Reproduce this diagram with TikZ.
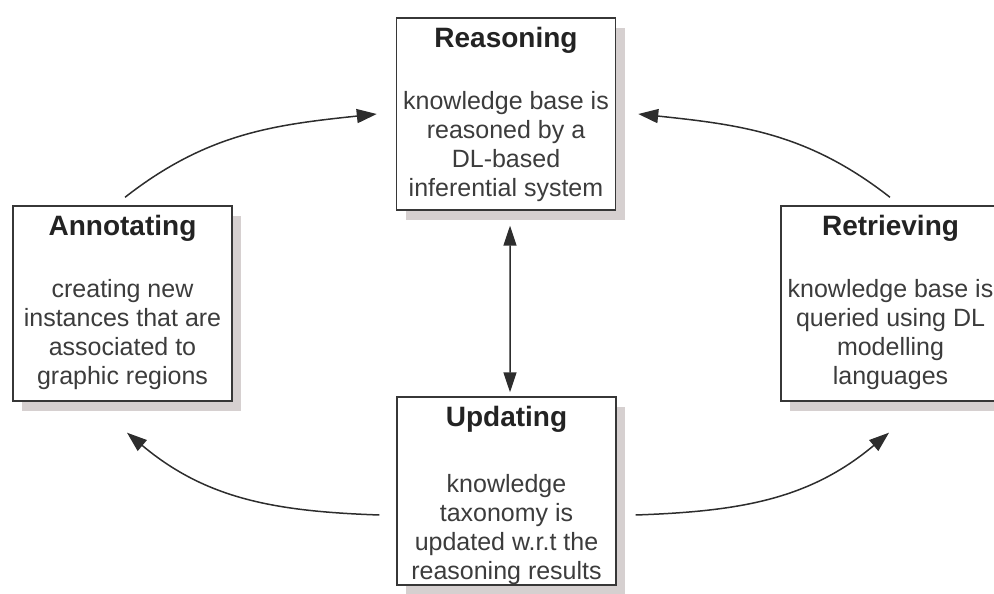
\documentclass[tikz,border=0pt]{standalone}
\usepackage{fontspec}
\setmainfont{Liberation Sans}
\usetikzlibrary{arrows.meta,shadows}
\definecolor{boxline}{RGB}{55,55,55}
\definecolor{shadowgray}{RGB}{214,208,208}
\definecolor{titleink}{RGB}{35,35,35}
\definecolor{bodyink}{RGB}{60,60,60}
\definecolor{arrowink}{RGB}{45,45,45}
\begin{document}
\begin{tikzpicture}[x=1bp,y=1bp,
  stage/.style={draw=boxline, line width=1.4bp, fill=white, inner sep=0pt,
    minimum width=219bp,
    general shadow={fill=shadowgray, shadow xshift=9bp, shadow yshift=-10bp}},
  stagetitle/.style={inner sep=0pt, anchor=base, text=titleink,
    font=\fontsize{28bp}{32bp}\selectfont\bfseries},
  stagebody/.style={inner sep=0pt, anchor=north, align=center, text=bodyink,
    font=\fontsize{25bp}{29bp}\selectfont,
    execute at begin node={\rule{0pt}{19bp}}},
  flow/.style={draw=arrowink, line width=1.5bp,
    -{Triangle[length=20bp,width=14bp]}},
  link/.style={draw=arrowink, line width=1.5bp,
    {Triangle[length=20bp,width=13bp]}-{Triangle[length=20bp,width=13bp]}}]
\useasboundingbox (0,0) rectangle (994,594);
\clip (0,0) rectangle (994,594);

% the four stages of the cycle
\node[stage, minimum height=192bp] (rea) at (506,480) {};
\node[stage, minimum height=195bp] (ann) at (122.5,290.5) {};
\node[stage, minimum height=195bp] (ret) at (890.5,290.5) {};
\node[stage, minimum height=188bp] (upd) at (506.5,103) {};

% titles
\node[stagetitle] (reaT) at ([yshift=-30bp]rea.north) {Reasoning};
\node[stagetitle] (annT) at ([yshift=-30bp]ann.north) {Annotating};
\node[stagetitle] (retT) at ([yshift=-30bp]ret.north) {Retrieving};
\node[stagetitle] (updT) at ([yshift=-30bp]upd.north) {Updating};

% descriptions
\node[stagebody] (reaB) at ([yshift=-74bp]rea.north)
  {knowledge base is\\reasoned by a\\DL-based\\inferential system};
\node[stagebody] (annB) at ([yshift=-74bp]ann.north)
  {creating new\\instances that are\\associated to\\graphic regions};
\node[stagebody] (retB) at ([yshift=-74bp]ret.north)
  {knowledge base is\\queried using DL\\modelling\\languages};
\node[stagebody] (updB) at ([yshift=-78bp]upd.north)
  {knowledge\\taxonomy is\\updated w.r.t the\\reasoning results};

% curved arrows around the cycle
\draw[flow] ([xshift=2.5bp,yshift=8bp]ann.north) to[out=38,in=186]
  ([xshift=-19bp]rea.west);
\draw[flow] ([xshift=-0.5bp,yshift=8bp]ret.north) to[out=142,in=-6]
  ([xshift=22bp]rea.east);
\draw[flow] ([xshift=-17bp,yshift=-24bp]upd.west) to[out=178,in=-40]
  ([xshift=4.5bp,yshift=-31bp]ann.south);
\draw[flow] ([xshift=19bp,yshift=-24bp]upd.east) to[out=2,in=220]
  ([xshift=-1.5bp,yshift=-31bp]ret.south);

% two-way link between reasoning and updating
\draw[link] ([xshift=4bp,yshift=-15bp]rea.south) -- ([xshift=3.5bp,yshift=4bp]upd.north);
\end{tikzpicture}
\end{document}
